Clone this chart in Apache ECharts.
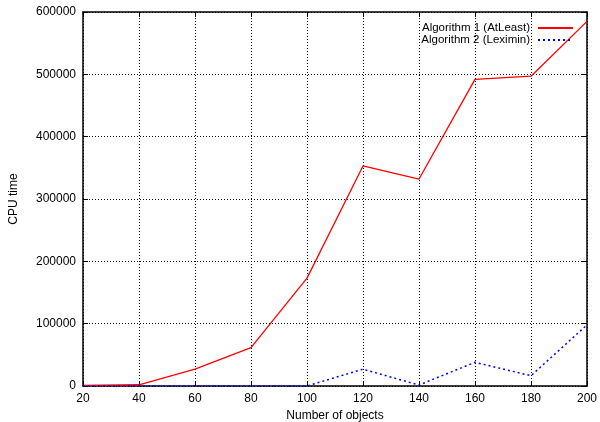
<!DOCTYPE html>
<html><head><meta charset="utf-8">
<script src="https://cdn.jsdelivr.net/npm/echarts@6/dist/echarts.min.js"></script>
<style>html,body{margin:0;padding:0;background:#fff}#c{width:600px;height:422px}</style>
</head><body><div id="c"></div>
<script>
const categories = [20, 40, 60, 80, 100, 120, 140, 160, 180, 200];
const algo1 = [1000, 2000, 27000, 61500, 173000, 353000, 332000, 492000, 497000, 585000];
const algo2 = [0, 0, 0, 0, 0, 27000, 1500, 38000, 16500, 98000];
const seriesNames = ['Algorithm 1 (AtLeast)', 'Algorithm 2 (Leximin)'];
const xTitle = 'Number of objects';
const yTitle = 'CPU time';

const font = 'Liberation Sans, Arial, sans-serif';
const chart = echarts.init(document.getElementById('c'));
const toPairs = arr => categories.map((c, i) => [c, arr[i]]);
const axisBase = {
  axisLine: {show: true, onZero: false, lineStyle: {color: '#000', width: 1.5}},
  axisTick: {show: true, inside: true, length: 5, lineStyle: {color: '#000'}},
};
chart.setOption({
  animation: false,
  grid: {left: 83, right: 13, top: 12, bottom: 36, show: false, containLabel: false, outerBoundsMode: 'none'},
  legend: {
    top: 17, right: 21, orient: 'vertical', align: 'right', itemGap: 0,
    itemWidth: 35, itemHeight: 10,
    itemStyle: {opacity: 0},
    textStyle: {fontFamily: font, fontSize: 11.5, lineHeight: 10, color: '#000', padding: [0, 3, 0, 0]},
    data: seriesNames
  },
  xAxis: [{
    type: 'value', min: 20, max: 200, interval: 20,
    name: xTitle, nameLocation: 'middle', nameGap: 24,
    nameTextStyle: {fontFamily: font, fontSize: 12, color: '#000'},
    axisLabel: {fontFamily: font, fontSize: 12, color: '#000', margin: 7},
    splitLine: {show: true, lineStyle: {color: '#000', type: [1, 2], width: 1}},
    ...axisBase
  }, {
    type: 'value', position: 'top', min: 20, max: 200, interval: 20,
    axisLabel: {show: false}, splitLine: {show: false}, ...axisBase
  }],
  yAxis: [{
    type: 'value', min: 0, max: 600000, interval: 100000,
    name: yTitle, nameLocation: 'middle', nameGap: 63, nameRotate: 90,
    nameTextStyle: {fontFamily: font, fontSize: 12, color: '#000'},
    axisLabel: {fontFamily: font, fontSize: 12, color: '#000', margin: 7, formatter: v => String(v)},
    splitLine: {show: true, lineStyle: {color: '#000', type: [1, 2], width: 1}},
    ...axisBase
  }, {
    type: 'value', position: 'right', min: 0, max: 600000, interval: 100000,
    axisLabel: {show: false}, splitLine: {show: false}, ...axisBase
  }],
  series: [{
    name: seriesNames[0], type: 'line', data: toPairs(algo1), symbol: 'none',
    lineStyle: {color: '#ff0000', width: 1.3}, itemStyle: {color: '#ff0000'}, z: 3
  }, {
    name: seriesNames[1], type: 'line', data: toPairs(algo2), symbol: 'none',
    lineStyle: {color: '#0000ff', width: 1.5, type: [2, 3]}, itemStyle: {color: '#0000ff'}, z: 4
  }]
});
</script></body></html>
